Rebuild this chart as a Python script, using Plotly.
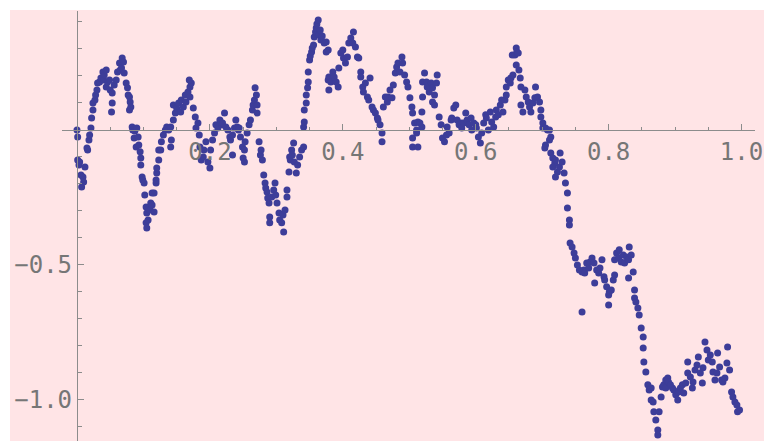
import plotly.graph_objects as go

# Sampled path: position along the unit interval and its value
x_vals = [
    0.000, 0.001, 0.001, 0.003, 0.004, 0.006, 0.007, 0.009, 0.010, 0.012,
    0.015, 0.016, 0.018, 0.019, 0.021, 0.022, 0.024, 0.024, 0.027, 0.028,
    0.030, 0.031, 0.034, 0.036, 0.039, 0.040, 0.041, 0.044, 0.044, 0.046,
    0.049, 0.050, 0.052, 0.053, 0.053, 0.056, 0.059, 0.061, 0.064, 0.065,
    0.067, 0.068, 0.070, 0.071, 0.074, 0.076, 0.077, 0.079, 0.079, 0.080,
    0.081, 0.083, 0.084, 0.086, 0.087, 0.089, 0.090, 0.092, 0.093, 0.095,
    0.096, 0.096, 0.098, 0.099, 0.101, 0.102, 0.104, 0.104, 0.105, 0.105,
    0.107, 0.108, 0.110, 0.111, 0.113, 0.113, 0.116, 0.116, 0.119, 0.119,
    0.120, 0.120, 0.123, 0.123, 0.126, 0.127, 0.130, 0.133, 0.135, 0.138,
    0.141, 0.142, 0.141, 0.145, 0.148, 0.145, 0.150, 0.153, 0.156, 0.157,
    0.160, 0.163, 0.164, 0.167, 0.170, 0.170, 0.172, 0.169, 0.175, 0.178,
    0.179, 0.182, 0.184, 0.185, 0.187, 0.190, 0.191, 0.194, 0.197, 0.200,
    0.201, 0.204, 0.207, 0.209, 0.212, 0.215, 0.218, 0.219, 0.222, 0.224,
    0.227, 0.230, 0.231, 0.234, 0.234, 0.237, 0.239, 0.241, 0.243, 0.244,
    0.246, 0.249, 0.250, 0.252, 0.252, 0.253, 0.256, 0.259, 0.261, 0.264,
    0.265, 0.267, 0.268, 0.270, 0.271, 0.271, 0.274, 0.276, 0.277, 0.279,
    0.281, 0.283, 0.284, 0.286, 0.287, 0.289, 0.290, 0.290, 0.293, 0.296,
    0.298, 0.299, 0.301, 0.304, 0.305, 0.308, 0.310, 0.311, 0.313, 0.316,
    0.316, 0.319, 0.320, 0.321, 0.323, 0.324, 0.326, 0.327, 0.330, 0.332,
    0.335, 0.338, 0.341, 0.341, 0.342, 0.342, 0.345, 0.345, 0.347, 0.348,
    0.348, 0.350, 0.351, 0.353, 0.354, 0.356, 0.357, 0.359, 0.360, 0.361,
    0.363, 0.364, 0.366, 0.367, 0.369, 0.372, 0.375, 0.375, 0.378, 0.378,
    0.379, 0.379, 0.382, 0.385, 0.387, 0.390, 0.393, 0.394, 0.397, 0.400,
    0.401, 0.404, 0.407, 0.409, 0.412, 0.415, 0.416, 0.419, 0.422, 0.424,
    0.427, 0.427, 0.430, 0.431, 0.434, 0.437, 0.439, 0.441, 0.444, 0.446,
    0.449, 0.452, 0.453, 0.456, 0.459, 0.459, 0.461, 0.464, 0.467, 0.468,
    0.471, 0.474, 0.476, 0.479, 0.481, 0.483, 0.486, 0.489, 0.490, 0.493,
    0.496, 0.498, 0.501, 0.504, 0.505, 0.505, 0.505, 0.508, 0.511, 0.511,
    0.513, 0.513, 0.516, 0.519, 0.519, 0.520, 0.520, 0.523, 0.526, 0.527,
    0.530, 0.533, 0.535, 0.535, 0.538, 0.538, 0.541, 0.542, 0.545, 0.548,
    0.550, 0.553, 0.556, 0.557, 0.560, 0.563, 0.564, 0.567, 0.570, 0.572,
    0.575, 0.578, 0.579, 0.582, 0.585, 0.587, 0.590, 0.593, 0.594, 0.597,
    0.600, 0.601, 0.604, 0.607, 0.609, 0.612, 0.615, 0.616, 0.619, 0.622,
    0.624, 0.627, 0.630, 0.631, 0.634, 0.637, 0.639, 0.641, 0.644, 0.646,
    0.646, 0.649, 0.652, 0.653, 0.656, 0.655, 0.659, 0.661, 0.662, 0.664,
    0.661, 0.665, 0.667, 0.668, 0.668, 0.671, 0.674, 0.676, 0.679, 0.681,
    0.683, 0.686, 0.689, 0.690, 0.693, 0.696, 0.698, 0.698, 0.701, 0.701,
    0.705, 0.708, 0.711, 0.713, 0.711, 0.705, 0.704, 0.713, 0.716, 0.719,
    0.716, 0.720, 0.723, 0.720, 0.726, 0.727, 0.730, 0.733, 0.735, 0.738,
    0.738, 0.741, 0.741, 0.742, 0.745, 0.748, 0.750, 0.753, 0.756, 0.760,
    0.760, 0.763, 0.764, 0.767, 0.770, 0.772, 0.775, 0.778, 0.779, 0.782,
    0.785, 0.787, 0.790, 0.793, 0.794, 0.797, 0.800, 0.800, 0.801, 0.804,
    0.807, 0.809, 0.809, 0.812, 0.815, 0.816, 0.819, 0.822, 0.824, 0.827,
    0.830, 0.830, 0.831, 0.834, 0.837, 0.839, 0.839, 0.841, 0.844, 0.846,
    0.849, 0.852, 0.852, 0.853, 0.856, 0.859, 0.861, 0.864, 0.864, 0.867,
    0.868, 0.871, 0.874, 0.874, 0.876, 0.879, 0.881, 0.883, 0.886, 0.886,
    0.889, 0.890, 0.893, 0.896, 0.898, 0.901, 0.904, 0.905, 0.908, 0.911,
    0.913, 0.916, 0.919, 0.919, 0.923, 0.926, 0.927, 0.930, 0.933, 0.935,
    0.938, 0.941, 0.942, 0.945, 0.948, 0.950, 0.953, 0.956, 0.957, 0.960,
    0.963, 0.964, 0.967, 0.970, 0.972, 0.975, 0.978, 0.979, 0.982, 0.985,
    0.987, 0.990, 0.993, 0.994, 0.997,
]

y_vals = [
    0.000, -0.026, -0.111, -0.130, -0.119, -0.167, -0.211, -0.174, -0.193, -0.137,
    -0.067, -0.074, -0.037, -0.019, 0.007, 0.044, 0.074, 0.100, 0.111, 0.130,
    0.148, 0.174, 0.178, 0.193, 0.215, 0.185, 0.204, 0.222, 0.159, 0.178,
    0.185, 0.148, 0.067, 0.100, 0.137, 0.167, 0.185, 0.215, 0.248, 0.222,
    0.230, 0.267, 0.252, 0.211, 0.174, 0.156, 0.130, 0.122, 0.074, 0.104,
    0.085, 0.011, 0.000, -0.030, -0.004, -0.063, 0.007, -0.026, -0.056, -0.081,
    -0.104, -0.130, -0.174, -0.185, -0.196, -0.241, -0.285, -0.344, -0.307, -0.363,
    -0.333, -0.289, -0.296, -0.270, -0.278, -0.233, -0.304, -0.233, -0.196, -0.185,
    -0.159, -0.141, -0.111, -0.074, -0.074, -0.044, -0.019, 0.000, 0.011, 0.000,
    -0.063, -0.037, 0.011, 0.037, 0.063, 0.093, 0.081, 0.100, 0.067, 0.111,
    0.085, 0.130, 0.104, 0.141, 0.159, 0.122, 0.174, 0.185, 0.081, 0.048,
    0.007, 0.026, -0.019, -0.063, -0.111, -0.100, -0.074, -0.044, -0.119, -0.141,
    -0.074, -0.037, -0.011, 0.019, 0.007, 0.037, 0.019, 0.026, 0.063, 0.011,
    0.000, -0.026, -0.037, -0.093, -0.019, 0.007, 0.037, 0.011, 0.000, 0.007,
    -0.026, -0.063, -0.104, -0.119, -0.074, -0.044, -0.011, 0.019, 0.037, 0.074,
    0.093, 0.111, 0.156, 0.130, 0.093, 0.063, -0.044, -0.093, -0.074, -0.111,
    -0.167, -0.196, -0.215, -0.230, -0.252, -0.270, -0.322, -0.344, -0.248, -0.222,
    -0.196, -0.241, -0.270, -0.307, -0.333, -0.344, -0.315, -0.378, -0.296, -0.248,
    -0.222, -0.156, -0.100, -0.111, -0.074, -0.093, -0.048, -0.119, -0.159, -0.130,
    -0.100, -0.074, -0.063, 0.011, 0.030, 0.074, 0.100, 0.130, 0.156, 0.178,
    0.215, 0.259, 0.274, 0.289, 0.304, 0.315, 0.344, 0.363, 0.378, 0.393,
    0.407, 0.352, 0.370, 0.333, 0.348, 0.322, 0.289, 0.326, 0.296, 0.185,
    0.196, 0.148, 0.178, 0.215, 0.196, 0.178, 0.159, 0.230, 0.285, 0.296,
    0.267, 0.248, 0.270, 0.322, 0.341, 0.322, 0.363, 0.307, 0.270, 0.267,
    0.215, 0.196, 0.159, 0.141, 0.174, 0.122, 0.111, 0.193, 0.085, 0.074,
    0.063, 0.044, 0.037, 0.019, -0.011, -0.044, 0.085, 0.122, 0.104, 0.122,
    0.148, 0.119, 0.167, 0.211, 0.233, 0.248, 0.215, 0.270, 0.248, 0.204,
    0.178, 0.159, 0.119, 0.085, 0.063, -0.030, -0.063, 0.026, 0.000, -0.011,
    -0.063, 0.030, 0.026, 0.067, 0.011, 0.122, 0.178, 0.211, 0.178, 0.159,
    0.141, 0.174, 0.156, 0.104, 0.130, 0.093, 0.174, 0.204, 0.048, 0.019,
    -0.030, -0.044, -0.019, 0.011, -0.011, 0.037, 0.044, 0.081, 0.093, 0.037,
    0.019, 0.026, 0.007, 0.026, 0.063, 0.037, 0.019, 0.044, 0.000, 0.026,
    0.019, 0.007, -0.026, -0.048, -0.011, 0.026, 0.056, 0.044, 0.000, 0.067,
    0.030, 0.011, 0.048, 0.074, 0.056, 0.093, 0.111, 0.067, 0.111, 0.130,
    0.159, 0.185, 0.174, 0.193, 0.204, 0.278, 0.278, 0.304, 0.289, 0.285,
    0.241, 0.222, 0.193, 0.159, 0.093, 0.067, 0.148, 0.122, 0.104, 0.085,
    0.067, 0.100, 0.119, 0.159, 0.122, 0.104, 0.074, 0.048, 0.026, 0.007,
    0.007, 0.000, 0.000, -0.026, -0.037, -0.056, -0.067, -0.085, -0.104, -0.122,
    -0.137, -0.111, -0.156, -0.174, -0.137, -0.085, -0.119, -0.159, -0.196, -0.233,
    -0.289, -0.333, -0.352, -0.419, -0.433, -0.456, -0.474, -0.500, -0.519, -0.526,
    -0.674, -0.519, -0.530, -0.493, -0.511, -0.489, -0.474, -0.493, -0.567, -0.519,
    -0.530, -0.511, -0.481, -0.544, -0.556, -0.581, -0.611, -0.648, -0.600, -0.593,
    -0.556, -0.537, -0.481, -0.456, -0.474, -0.444, -0.489, -0.463, -0.493, -0.470,
    -0.481, -0.548, -0.433, -0.463, -0.526, -0.593, -0.622, -0.637, -0.659, -0.685,
    -0.733, -0.767, -0.807, -0.859, -0.896, -0.944, -0.963, -0.956, -1.000, -1.007,
    -1.044, -1.074, -1.111, -1.130, -1.044, -0.989, -0.952, -0.944, -0.926, -0.956,
    -0.919, -0.933, -0.944, -0.956, -0.963, -0.981, -1.000, -0.970, -0.956, -0.944,
    -0.974, -0.937, -0.900, -0.859, -0.915, -0.956, -0.933, -0.889, -0.870, -0.841,
    -0.900, -0.937, -0.881, -0.785, -0.815, -0.852, -0.833, -0.859, -0.896, -0.926,
    -0.900, -0.826, -0.878, -0.926, -0.933, -0.919, -0.863, -0.804, -0.889, -0.970,
    -0.989, -1.007, -1.019, -1.044, -1.037,
]

# Axis ticks
x_tick_vals = [0.2, 0.4, 0.6, 0.8, 1.0]
x_tick_text = ["0.2", "0.4", "0.6", "0.8", "1.0"]
x_minor_vals = [0.05, 0.1, 0.15, 0.25, 0.3, 0.35, 0.45, 0.5, 0.55,
                0.65, 0.7, 0.75, 0.85, 0.9, 0.95]
y_tick_vals = [-0.5, -1.0]
y_tick_text = ["\u22120.5", "\u22121.0"]
y_minor_vals = [0.4, 0.3, 0.2, 0.1, -0.1, -0.2, -0.3, -0.4,
                -0.6, -0.7, -0.8, -0.9, -1.1]

BG = "#ffe4e6"
DOT = "#3d3d99"
AXIS = "#8c8c8c"
LABEL = "#767676"

fig = go.Figure(
    go.Scatter(
        x=x_vals,
        y=y_vals,
        mode="markers",
        marker=dict(size=7, color=DOT, line=dict(width=0)),
        cliponaxis=False,
        hoverinfo="skip",
    )
)

axis_common = dict(
    showline=True,
    linecolor=AXIS,
    linewidth=1.3,
    showgrid=False,
    zeroline=False,
    ticks="inside",
    tickcolor=AXIS,
    tickwidth=1,
    ticklen=6,
    tickmode="array",
    tickfont=dict(family="DejaVu Sans Mono", size=24, color=LABEL),
    anchor="free",
)

fig.update_layout(
    width=772,
    height=441,
    margin=dict(l=10, r=0, t=10, b=0, pad=0),
    paper_bgcolor="white",
    plot_bgcolor="rgba(0,0,0,0)",
    showlegend=False,
    shapes=[
        dict(type="rect", xref="paper", yref="paper", x0=0, x1=1, y0=0, y1=1,
             fillcolor=BG, line=dict(width=0), layer="below"),
    ],
    xaxis=dict(
        axis_common,
        domain=[0.06955, 0.98819],
        range=[-0.0219, 1.0204],
        position=0.72158,
        tickvals=x_tick_vals,
        ticktext=x_tick_text,
        minor=dict(tickmode="array", tickvals=x_minor_vals, ticks="inside",
                   ticklen=3, tickcolor=AXIS, tickwidth=1, showgrid=False),
    ),
    yaxis=dict(
        axis_common,
        domain=[0, 0.99768],
        range=[-1.1519, 0.4407],
        position=0.08885,
        tickvals=y_tick_vals,
        ticktext=y_tick_text,
        minor=dict(tickmode="array", tickvals=y_minor_vals, ticks="inside",
                   ticklen=4, tickcolor=AXIS, tickwidth=1, showgrid=False),
    ),
)

fig.write_html("out.html")
